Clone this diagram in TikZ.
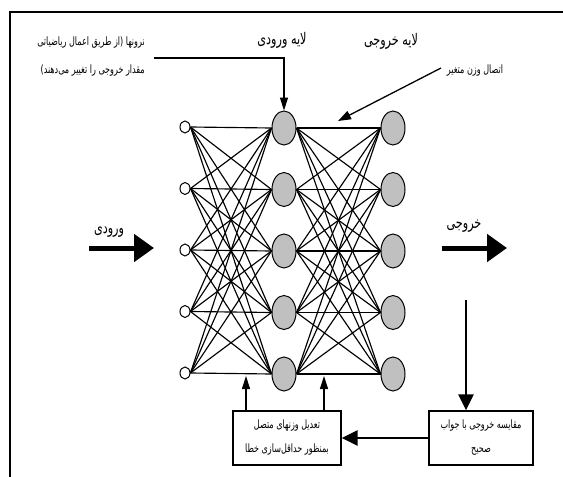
\documentclass[tikz,border=0pt]{standalone}
\usepackage{fontspec}
\usetikzlibrary{arrows.meta,shapes.geometric}
\TeXXeTstate=1
\newfontfamily\fa[Script=Arabic,FakeStretch=0.7]{DejaVu Sans}
\definecolor{nodegray}{HTML}{C0C0C0}

\begin{document}
\begin{tikzpicture}[x=1pt,y=-1pt,
  inunit/.style={ellipse,draw,line width=1pt,fill=white,minimum width=10pt,minimum height=12pt,inner sep=0pt},
  unit/.style={ellipse,draw,line width=1pt,fill=nodegray,minimum width=24pt,minimum height=34pt,inner sep=0pt},
  link/.style={line width=1.15pt},
  title/.style={font=\fa\fontsize{16}{18}\selectfont,inner sep=0pt},
  note/.style={font=\fa\fontsize{11.5}{13}\selectfont,inner sep=0pt},
  boxtext/.style={font=\fa\fontsize{11.5}{24}\selectfont,align=center},
  stagebox/.style={draw,line width=1.3pt,minimum width=108pt,minimum height=54pt,inner sep=0pt},
  fatarrow/.style={line width=5pt,-{Triangle[width=27pt,length=20pt]}},
  flowarrow/.style={line width=2.6pt,-{Triangle[width=15pt,length=16pt]}},
  thinarrow/.style={line width=1.3pt,-{Triangle[width=8pt,length=13pt]}}]

\useasboundingbox (0,0) rectangle (563,477);

% frame
\draw[line width=1.3pt] (10,477) -- (10,12) -- (563,12);

% layers
\foreach \k/\y in {1/127,2/188.5,3/250,4/311.5,5/373}{
  \node[inunit] (i\k) at (185,\y) {};
  \node[unit] (h\k) at (284,\y+1) {};
  \node[unit] (o\k) at (393,\y+1) {};
}

% full connections between neighbouring layers
\foreach \a in {1,...,5}{
  \foreach \b in {1,...,5}{
    \draw[link] (i\a.east) -- (h\b.west);
    \draw[link] (h\a.east) -- (o\b.west);
  }
}

% layer titles
\node[title] (tin) at (282,40) {\beginR لایه ورودی\endR};
\node[title] (tout) at (391,41) {\beginR لایه خروجی\endR};

% neuron note with leader
\node[note,anchor=east] (n1) at (145,43) {\beginR نرونها (از طریق اعمال ریاضیاتی\endR};
\node[note,anchor=east] (n2) at (145,71) {\beginR مقدار خروجی را تغییر می‌دهند)\endR};
\coordinate (nstart) at (154,58);
\draw[thinarrow] (nstart) -| (h1.north);

% weight note
\node[note] (wnote) at (475,71) {\beginR اتصال وزن متغیر\endR};
\coordinate (wstart) at (441,68);
\coordinate (wtip) at (338,121);
\draw[line width=1.3pt,-{Triangle[width=9pt,length=13pt]}] (wstart) -- (wtip);

% input and output arrows
\node[title] (lin) at (109,232) {\beginR ورودی\endR};
\coordinate (ina) at (89,248);
\coordinate (inb) at (154,248);
\draw[fatarrow] (ina) -- (inb);

\node[title] (lout) at (464,226) {\beginR خروجی\endR};
\coordinate (outa) at (442,248);
\coordinate (outb) at (507,248);
\draw[fatarrow] (outa) -- (outb);

% feedback boxes
\node[stagebox] (adj) at (287,438) {};
\node[boxtext] at (adj.center) {\beginR تعدیل وزنهای متصل\endR\\\beginR بمنظور حداقل‌سازی خطا\endR};
\node[stagebox,minimum width=104pt] (cmp) at (481,438) {};
\node[boxtext] at (cmp.center) {\beginR مقایسه خروجی با جواب\endR\\\beginR صحیح\endR};

\coordinate (dstart) at (466,300);
\draw[flowarrow] (dstart) -- (dstart |- cmp.north);
\draw[flowarrow] (cmp.west) -- (adj.east);

\coordinate (u1) at (246,376);
\coordinate (u2) at (324,376);
\draw[thinarrow] (u1 |- adj.north) -- (u1);
\draw[thinarrow] (u2 |- adj.north) -- (u2);
\end{tikzpicture}
\end{document}
